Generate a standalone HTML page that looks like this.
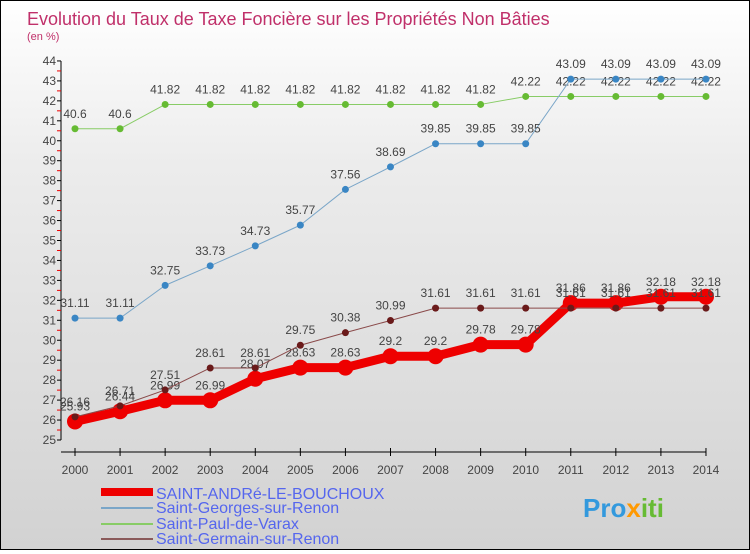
<!DOCTYPE html>
<html><head><meta charset="utf-8"><style>
html,body{margin:0;padding:0}
body{width:750px;height:550px;overflow:hidden;font-family:"Liberation Sans",sans-serif}
#c{position:absolute;left:0;top:0;width:748px;height:548px;border:1px solid #000;background:linear-gradient(#fff,#ececec 30%,#d2d2d2)}
</style></head><body>
<div id="c">
<svg id="s" width="748" height="548" xmlns="http://www.w3.org/2000/svg" font-family="Liberation Sans, sans-serif">
<text x="26" y="24" font-size="18" fill="#c0306a">Evolution du Taux de Taxe Foncière sur les Propriétés Non Bâties</text>
<text x="26" y="39" font-size="11" fill="#c0306a">(en %)</text>
<g id="axes"></g><g id="series"></g>
<g>
<rect x="100" y="487" width="52" height="8" fill="#e00"/>
<text x="155" y="498" font-size="16" fill="#5566ee">SAINT-ANDRé-LE-BOUCHOUX</text>
<rect x="100" y="506" width="52" height="2" fill="#7aa6c8"/>
<text x="155" y="512" font-size="16" fill="#5566ee">Saint-Georges-sur-Renon</text>
<rect x="100" y="522" width="52" height="2" fill="#88cc66"/>
<text x="155" y="528" font-size="16" fill="#5566ee">Saint-Paul-de-Varax</text>
<rect x="100" y="537" width="52" height="2" fill="#8a5a5a"/>
<text x="155" y="543" font-size="16" fill="#5566ee">Saint-Germain-sur-Renon</text>
</g>
<text x="582" y="516" font-size="26" font-weight="bold" fill="#3399dd">Pro<tspan fill="#ff9900">x</tspan><tspan fill="#66bb33">iti</tspan></text>
</svg></div>
<script>
const years=[2000,2001,2002,2003,2004,2005,2006,2007,2008,2009,2010,2011,2012,2013,2014];
const yTicks=[25,26,27,28,29,30,31,32,33,34,35,36,37,38,39,40,41,42,43,44];
const andre=[25.93,26.44,26.99,26.99,28.07,28.63,28.63,29.2,29.2,29.78,29.78,31.86,31.86,32.18,32.18];
const georges=[31.11,31.11,32.75,33.73,34.73,35.77,37.56,38.69,39.85,39.85,39.85,43.09,43.09,43.09,43.09];
const paul=[40.6,40.6,41.82,41.82,41.82,41.82,41.82,41.82,41.82,41.82,42.22,42.22,42.22,42.22,42.22];
const germain=[26.16,26.71,27.51,28.61,28.61,29.75,30.38,30.99,31.61,31.61,31.61,31.61,31.61,31.61,31.61];
const NS="http://www.w3.org/2000/svg";
const X=i=>74+i*45.07, Y=v=>439-(v-25)*19.95;
function mk(t,a,p){const e=document.createElementNS(NS,t);for(const k in a)e.setAttribute(k,a[k]);p.appendChild(e);return e;}
const ax=document.getElementById('axes'), sg=document.getElementById('series');
let e=mk('line',{x1:60,y1:60,x2:60,y2:Y(25),stroke:'#000'},ax);

e=mk('line',{x1:60,y1:Y(25)+12,x2:X(14),y2:Y(25)+12,stroke:'#000'},ax);

yTicks.forEach(v=>{
 e=mk('line',{x1:56,x2:60,y1:Y(v),y2:Y(v),stroke:'#000'},ax);
 
 if(v<44){e=mk('line',{x1:56,x2:60,y1:Y(v+0.5),y2:Y(v+0.5),stroke:'#e00'},ax);
 }
 e=mk('text',{x:55,y:Y(v)+4,'font-size':12,fill:'#444','text-anchor':'end'},ax);e.textContent=v;
 
});
years.forEach((y,i)=>{
 e=mk('line',{x1:X(i),x2:X(i),y1:Y(25)+8,y2:Y(25)+16,stroke:'#000'},ax);
 
 e=mk('text',{x:X(i),y:Y(25)+34,'font-size':12,fill:'#444','text-anchor':'middle'},ax);e.textContent=y;
 
});
function series(d,col,w,r,dot,name){
 const g=mk('g',{},sg);
 
 e=mk('polyline',{points:d.map((v,i)=>X(i)+','+Y(v)).join(' '),fill:'none',stroke:col,'stroke-width':w,'stroke-linejoin':'round'},g);
 
 d.forEach((v,i)=>{
  e=mk('circle',{cx:X(i),cy:Y(v),r:r,fill:dot},g);
  
  e=mk('text',{x:X(i),y:Y(v)-11,'font-size':12,fill:'#444','text-anchor':'middle'},g);e.textContent=v;
  
 });
}
series(paul,'#88cc66',1,3.5,'#66bb33','saint-paul');
series(georges,'#7aa6c8',1,3.5,'#3a86c4','saint-georges');
series(andre,'#ee0000',9,8,'#ee0000','saint-andre');
series(germain,'#8a4a4a',1,3.5,'#6a1a1a','saint-germain');
</script>
</body></html>
